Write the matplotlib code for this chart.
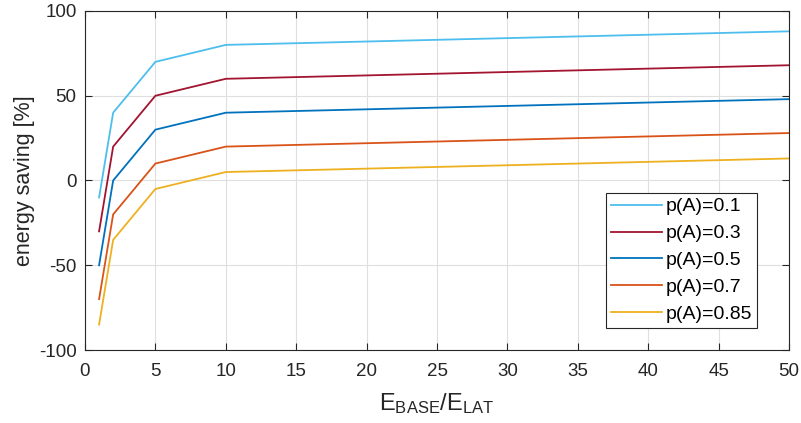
import matplotlib
matplotlib.use("Agg")
import matplotlib.pyplot as plt

x = [1, 2, 5, 10, 50]
labels = ["p(A)=0.1", "p(A)=0.3", "p(A)=0.5", "p(A)=0.7", "p(A)=0.85"]
s01 = [-10, 40, 70, 80, 88]
s03 = [-30, 20, 50, 60, 68]
s05 = [-50, 0, 30, 40, 48]
s07 = [-70, -20, 10, 20, 28]
s085 = [-85, -35, -5, 5, 13]
series = [s01, s03, s05, s07, s085]
colors = ["#4DBEEE", "#A2142F", "#0072BD", "#D95319", "#EDB120"]

plt.rcParams['font.family'] = ['Liberation Sans', 'DejaVu Sans']
plt.rcParams['mathtext.default'] = 'regular'
plt.rcParams['axes.unicode_minus'] = False

fig = plt.figure(figsize=(8.01, 4.23), dpi=100)
ax = fig.add_axes([85/801, 1 - 350/423, (789 - 85)/801, (350 - 11)/423])

for s, c, l in zip(series, colors, labels):
    ax.plot(x, s, color=c, lw=1.3, label=l)

ax.set_xlim(0, 50)
ax.set_ylim(-100, 100)
ax.set_xticks(range(0, 51, 5))
ax.set_yticks([-100, -50, 0, 50, 100])
ax.grid(True, color='#DFDFDF', lw=0.8)
ax.set_axisbelow(True)
ax.tick_params(direction='in', top=True, right=True, labelsize=13.5, colors='#262626', length=5, width=0.8)
ax.tick_params(axis='x', pad=9)
ax.tick_params(axis='y', pad=6)
for sp in ax.spines.values():
    sp.set_color('#262626')
    sp.set_linewidth(0.8)

ax.set_xlabel(r'$E_{BASE}/E_{LAT}$', fontsize=17, color='#262626', labelpad=8)
ax.set_ylabel('energy saving [%]', fontsize=15.5, color='#262626', labelpad=3)

leg = ax.legend(loc='lower right', bbox_to_anchor=(757/801, 1 - 328/423), bbox_transform=fig.transFigure,
                fontsize=14, frameon=True, fancybox=False, edgecolor='#262626', framealpha=1,
                handlelength=2.6, handletextpad=0.2, borderpad=0.25, labelspacing=0.48, borderaxespad=0)
leg.get_frame().set_linewidth(0.8)

fig.savefig('out.png', dpi=100)
